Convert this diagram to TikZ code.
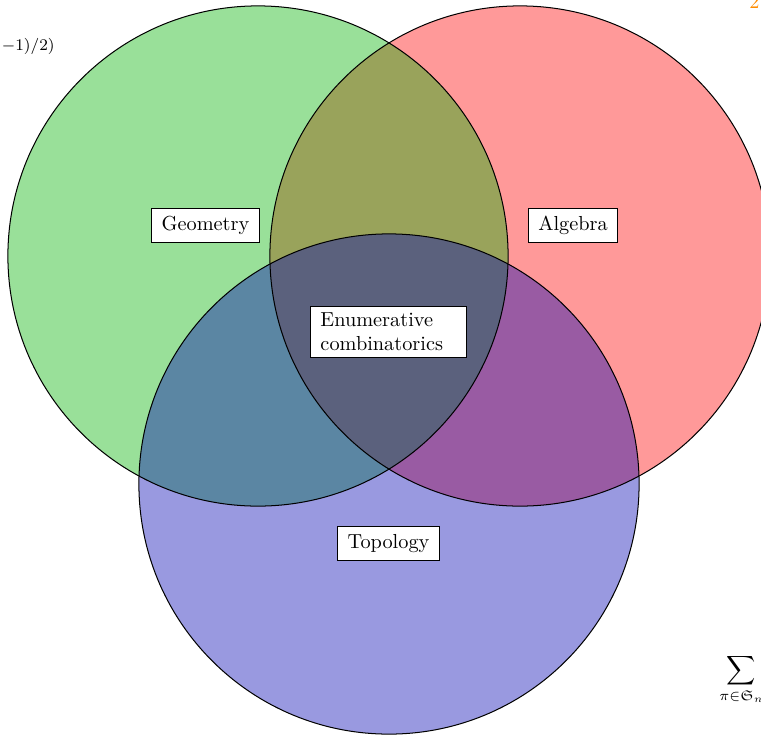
\documentclass[tikz,border=0pt]{standalone}
\usepackage{amssymb}
\definecolor{cred}{RGB}{255,0,0}
\definecolor{cgreen}{RGB}{0,178,0}
\definecolor{cblue}{RGB}{0,0,178}
\definecolor{corange}{RGB}{255,140,0}
\tikzset{
  setfill/.style={fill opacity=0.4},
  setline/.style={draw=black, line width=0.5pt},
  lbl/.style={draw=black, fill=white, line width=0.5pt, inner xsep=5pt, inner ysep=4pt, font=\normalsize},
}
\begin{document}
\begin{tikzpicture}[x=0.4926pt, y=-0.4926pt]
\useasboundingbox (0,0) rectangle (761,734);
\clip (0,0) rectangle (761,734);
\fill[white] (0,0) rectangle (761,734);
\coordinate (cA) at (520,256);
\coordinate (cG) at (258,256);
\coordinate (cT) at (389,484);
\fill[cred, setfill] (cA) circle[radius=123.2pt];
\fill[cgreen, setfill] (cG) circle[radius=123.2pt];
\fill[cblue, setfill] (cT) circle[radius=123.2pt];
\draw[setline] (cA) circle[radius=123.2pt];
\draw[setline] (cG) circle[radius=123.2pt];
\draw[setline] (cT) circle[radius=123.2pt];
\node[lbl] (geo) at (205.5,225.5) {Geometry};
\node[lbl] (alg) at (573,225.5) {Algebra};
\node[lbl] (top) at (388.5,543.5) {Topology};
\node[lbl, align=left, text width=67pt, inner xsep=5pt, inner ysep=3pt] (enu) at (388.5,332) {Enumerative\\combinatorics};
\node[anchor=east, inner sep=0pt, font=\footnotesize] (frag1) at (55,46) {$-1)/2)$};
\node[anchor=west, inner sep=0pt, text=corange] (frag2) at (749,2) {2};
\node[anchor=north west, inner sep=0pt] (frag3) at (719,654) {$\displaystyle\sum_{\pi\in\mathfrak{S}_n}$};
\end{tikzpicture}
\end{document}
